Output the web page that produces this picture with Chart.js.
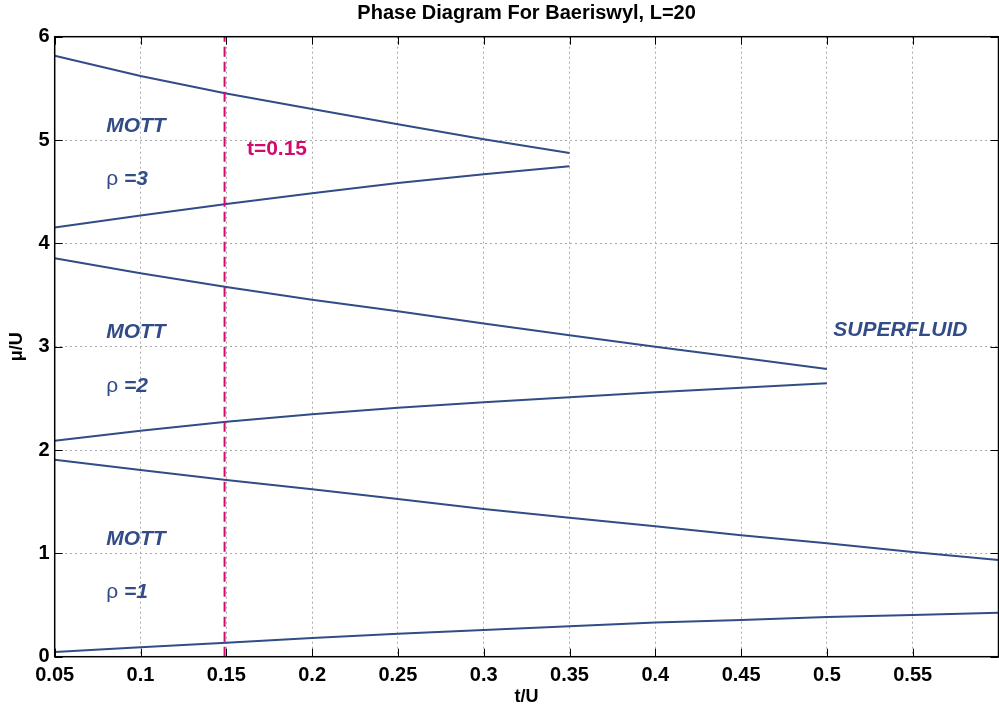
<!DOCTYPE html>
<html>
<head>
<meta charset="utf-8">
<script src="https://cdn.jsdelivr.net/npm/chart.js@4/dist/chart.umd.min.js"></script>
<style>
  html, body { margin: 0; padding: 0; background: #ffffff; overflow: hidden; }
  #wrap { position: relative; width: 999px; height: 708px; }
</style>
</head>
<body>
<div id="wrap"><canvas id="c"></canvas></div>
<script>
// ---- data ----
const tMott3 = [0.05, 0.1, 0.15, 0.2, 0.25, 0.3, 0.35];
const mott3Upper = [5.815, 5.62, 5.45, 5.30, 5.152, 5.007, 4.875];
const mott3Lower = [4.153, 4.27, 4.38, 4.486, 4.584, 4.668, 4.746];

const tMott2 = [0.05, 0.1, 0.15, 0.2, 0.25, 0.3, 0.35, 0.4, 0.45, 0.5];
const mott2Upper = [3.855, 3.71, 3.578, 3.455, 3.342, 3.225, 3.11, 3.0, 2.893, 2.784];
const mott2Lower = [2.09, 2.187, 2.274, 2.346, 2.41, 2.462, 2.51, 2.559, 2.603, 2.646];

const tMott1 = [0.05, 0.1, 0.15, 0.2, 0.25, 0.3, 0.35, 0.4, 0.45, 0.5, 0.55, 0.6];
const mott1Upper = [1.907, 1.807, 1.71, 1.62, 1.525, 1.43, 1.345, 1.263, 1.175, 1.097, 1.013, 0.936];
const mott1Lower = [0.045, 0.091, 0.136, 0.181, 0.223, 0.258, 0.294, 0.331, 0.355, 0.384, 0.403, 0.426];

const markerT = 0.149;
const markerLabel = 't=0.15';
const markerLabelPos = [0.162, 4.91];

const xTicks = [0.05, 0.1, 0.15, 0.2, 0.25, 0.3, 0.35, 0.4, 0.45, 0.5, 0.55, 0.6];
const xTickLabels = ['0.05', '0.1', '0.15', '0.2', '0.25', '0.3', '0.35', '0.4', '0.45', '0.5', '0.55', ''];
const yTicks = [0, 1, 2, 3, 4, 5, 6];

const phaseLabelT = [0.08, 0.08, 0.08];
const mottLabelY = [5.133, 3.137, 1.136];
const rhoLabelY = [4.62, 2.613, 0.629];
const rhoValues = ['3', '2', '1'];
const superfluidPos = [0.5037, 3.155];

const titleText = 'Phase Diagram For Baeriswyl, L=20';
const xTitle = 't/U';
const yTitle = 'μ/U';

// ---- styles ----
const BLUE = '#314c86';
const MAGENTA = '#d20a6e';
const FONT = '"Liberation Sans", Arial, Helvetica, sans-serif';

function pts(ts, ys) { return ts.map((t, i) => ({ x: t, y: ys[i] })); }
function lineDs(ts, ys) {
  return { data: pts(ts, ys), borderColor: BLUE, borderWidth: 2, pointRadius: 0, tension: 0, fill: false };
}

const frame = {
  id: 'frame',
  afterDatasetsDraw(chart) {
    const { ctx, chartArea: a, scales: { x, y } } = chart;
    ctx.save();
    // title centred over the plot area
    ctx.fillStyle = '#000000';
    ctx.textAlign = 'center';
    ctx.textBaseline = 'middle';
    ctx.font = 'bold 20px ' + FONT;
    ctx.fillText(titleText, (a.left + a.right) / 2, 13);

    // annotations
    ctx.fillStyle = BLUE;
    ctx.textAlign = 'left';
    for (let i = 0; i < phaseLabelT.length; i++) {
      const px = x.getPixelForValue(phaseLabelT[i]);
      ctx.font = 'italic bold 21px ' + FONT;
      ctx.fillText('MOTT', px, y.getPixelForValue(mottLabelY[i]));
      const py = y.getPixelForValue(rhoLabelY[i]);
      ctx.font = '21px ' + FONT;
      ctx.fillText('ρ ', px, py);
      const w = ctx.measureText('ρ ').width;
      ctx.font = 'italic bold 21px ' + FONT;
      ctx.fillText('=' + rhoValues[i], px + w, py);
    }
    ctx.font = 'italic bold 21px ' + FONT;
    ctx.fillText('SUPERFLUID', x.getPixelForValue(superfluidPos[0]), y.getPixelForValue(superfluidPos[1]));
    ctx.fillStyle = MAGENTA;
    ctx.font = 'bold 21px ' + FONT;
    ctx.fillText(markerLabel, x.getPixelForValue(markerLabelPos[0]), y.getPixelForValue(markerLabelPos[1]));

    // box
    ctx.strokeStyle = '#000000';
    ctx.lineWidth = 1.5;
    ctx.strokeRect(a.left, a.top, a.right - a.left, a.bottom - a.top);
    // inward ticks
    ctx.lineWidth = 1;
    ctx.beginPath();
    const L = 8;
    xTicks.forEach(v => {
      const px = Math.round(x.getPixelForValue(v)) + 0.5;
      ctx.moveTo(px, a.bottom); ctx.lineTo(px, a.bottom - L);
      ctx.moveTo(px, a.top); ctx.lineTo(px, a.top + L);
    });
    yTicks.forEach(v => {
      const py = Math.round(y.getPixelForValue(v)) + 0.5;
      ctx.moveTo(a.left, py); ctx.lineTo(a.left + L, py);
      ctx.moveTo(a.right, py); ctx.lineTo(a.right - L, py);
    });
    ctx.stroke();
    ctx.restore();
  }
};

new Chart(document.getElementById('c'), {
  type: 'line',
  data: {
    datasets: [
      { data: [{ x: markerT, y: 0 }, { x: markerT, y: 6 }], borderColor: MAGENTA, borderWidth: 2,
        borderDash: [10, 5], pointRadius: 0, fill: false },
      lineDs(tMott3, mott3Upper),
      lineDs(tMott3, mott3Lower),
      lineDs(tMott2, mott2Upper),
      lineDs(tMott2, mott2Lower),
      lineDs(tMott1, mott1Upper),
      lineDs(tMott1, mott1Lower)
    ]
  },
  options: {
    responsive: true,
    maintainAspectRatio: false,
    animation: false,
    devicePixelRatio: 1,
    layout: { autoPadding: false, padding: { left: 0, right: 0.5, top: 36.7, bottom: 0 } },
    plugins: {
      legend: { display: false },
      tooltip: { enabled: false },
      title: { display: false }
    },
    scales: {
      x: {
        type: 'linear', min: 0.05, max: 0.6,
        afterBuildTicks: s => { s.ticks = xTicks.map(v => ({ value: v })); },
        afterFit: s => { s.height = 51.3; s.paddingLeft = 0; s.paddingRight = 0; },
        ticks: {
          callback: (v, i) => xTickLabels[i],
          color: '#000000', padding: 7, maxRotation: 0, autoSkip: false,
          font: { family: FONT, size: 20, weight: 'bold' }
        },
        grid: { color: '#aaaaaa', lineWidth: 1, drawTicks: false },
        border: { display: false, dash: [2, 3] },
        title: {
          display: true, text: xTitle, color: '#000000',
          font: { family: FONT, size: 18, weight: 'bold' },
          padding: { top: 1, bottom: 0 }
        }
      },
      y: {
        type: 'linear', min: 0, max: 6,
        afterBuildTicks: s => { s.ticks = yTicks.map(v => ({ value: v })); },
        afterFit: s => { s.width = 54.7; s.paddingTop = 0; s.paddingBottom = 0; },
        ticks: {
          callback: v => String(v),
          color: '#000000', padding: 5, autoSkip: false,
          font: { family: FONT, size: 20, weight: 'bold' }
        },
        grid: { color: '#aaaaaa', lineWidth: 1, drawTicks: false },
        border: { display: false, dash: [2, 3] },
        title: {
          display: true, text: yTitle, color: '#000000',
          font: { family: FONT, size: 18, weight: 'bold' },
          padding: { top: 6, bottom: 0 }
        }
      }
    }
  },
  plugins: [frame]
});
</script>
</body>
</html>
